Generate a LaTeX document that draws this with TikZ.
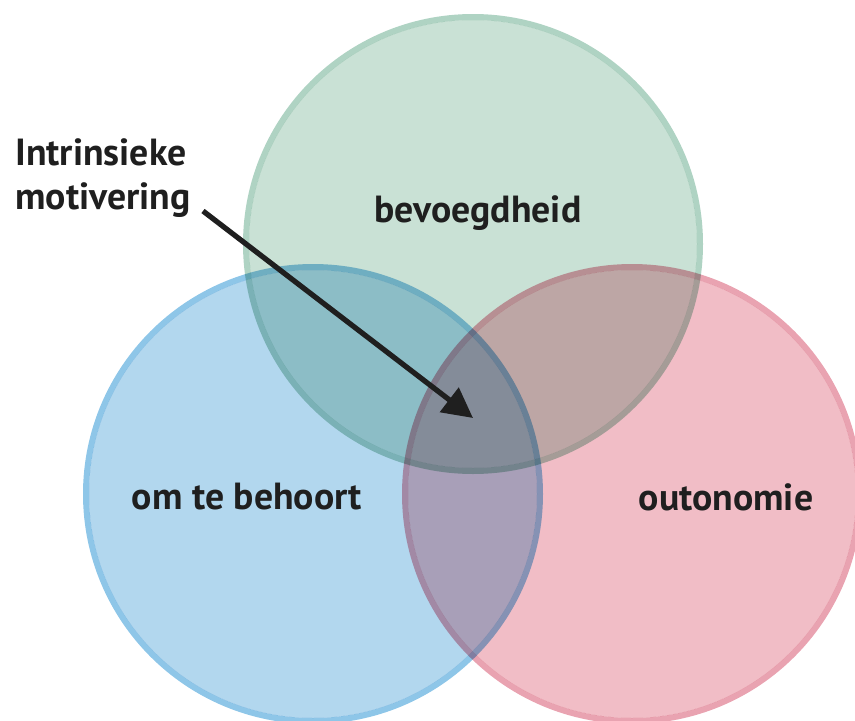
\documentclass[tikz,border=0pt]{standalone}
\usepackage{fontspec}
\setmainfont{PT Sans}
\usetikzlibrary{arrows.meta}
\definecolor{groenvul}{HTML}{C9E1D5}
\definecolor{groenrand}{HTML}{AFD3C3}
\definecolor{blouvul}{HTML}{B2D7EE}
\definecolor{blourand}{HTML}{8EC6E8}
\definecolor{pienkvul}{HTML}{F1BDC6}
\definecolor{pienkrand}{HTML}{E9A3B1}
\tikzset{ring/.style={even odd rule},
         etiket/.style={font=\bfseries\fontsize{21.5}{25}\selectfont,text=black!88},
         pyl/.style={-{Triangle[length=6mm,width=6mm]},line width=3pt,black!88}}
\newcommand{\kring}[3]{% middelpunt, vul, rand
  \fill[#2] #1 circle (224);
  \fill[#3,ring] #1 circle (230) #1 circle (224);}
\begin{document}
\begin{tikzpicture}[x=0.02cm,y=-0.02cm]
  \useasboundingbox (0,0) rectangle (855,720);
  \clip (0,0) rectangle (855,720);
  \begin{scope}[blend mode=multiply]
    \kring{(313,494)}{blouvul}{blourand}
    \kring{(632,494)}{pienkvul}{pienkrand}
    \kring{(473,244)}{groenvul}{groenrand}
  \end{scope}
  \node[etiket] (bevoeg) at (478,213) {bevoegdheid};
  \node[etiket] (behoort) at (247,497) {om te behoort};
  \node[etiket] (outonoom) at (726,497) {outonomie};
  \node[etiket,align=left,anchor=north west,inner sep=0pt] (intrinsiek) at (15,138)
    {Intrinsieke\\motivering};
  \coordinate (begin) at (203,211);
  \coordinate (punt) at (473,418);
  \draw[pyl] (begin) -- (punt);
\end{tikzpicture}
\end{document}
